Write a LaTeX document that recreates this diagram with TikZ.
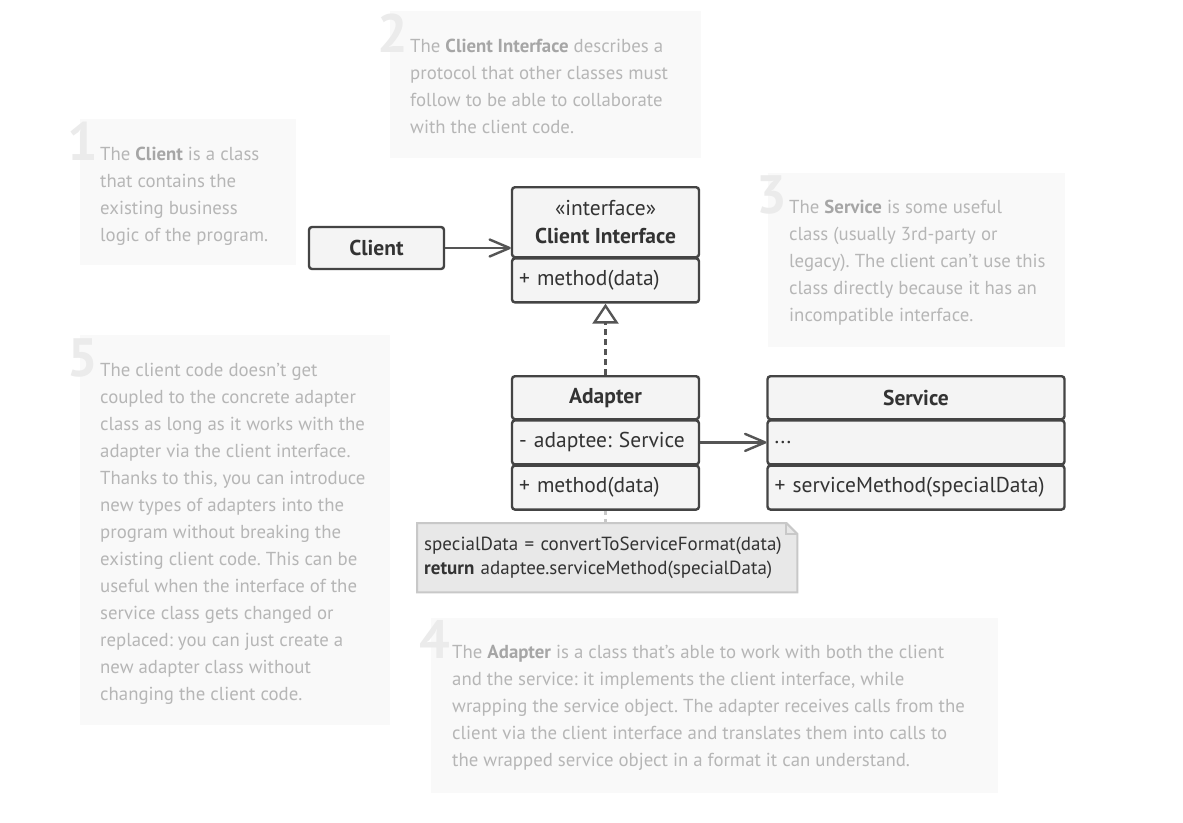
\documentclass[tikz,border=0pt]{standalone}
\usepackage{fontspec}
\setmainfont{PT Sans}
\usetikzlibrary{positioning,arrows.meta,backgrounds}

\definecolor{umlline}{HTML}{444444}
\definecolor{umlfill}{HTML}{F4F4F4}
\definecolor{umltext}{HTML}{333333}
\definecolor{annfill}{HTML}{F9F9F9}
\definecolor{anntext}{HTML}{B6B6B6}
\definecolor{annbold}{HTML}{A6A6A6}
\definecolor{numgray}{HTML}{EBEBEB}
\definecolor{codefill}{HTML}{E8E8E8}
\definecolor{codeline}{HTML}{C8C8C8}
\definecolor{arrowcol}{HTML}{555555}

\newcommand{\hl}[1]{\textbf{\color{annbold}#1}}
\frenchspacing

\begin{document}
\begin{tikzpicture}[x=1pt, y=-1pt, every node/.style={inner sep=0pt},
    cls/.style={draw=umlline, line width=2.4pt, rounded corners=3pt, fill=umlfill, text=umltext, font=\fontsize{21.5}{28}\selectfont},
    head/.style={cls, font=\fontsize{21.5}{28}\selectfont\bfseries, align=center, minimum height=43pt},
    row/.style={cls, inner xsep=7pt, text width=#1, align=left, minimum height=44pt},
    ann/.style={fill=annfill, anchor=north west},
    anntext/.style={text=anntext, font=\fontsize{18.8}{27}\selectfont, align=left, anchor=north west},
    annnum/.style={text=numgray, font=\fontsize{54}{54}\selectfont\bfseries, anchor=base east},
    assoc/.style={draw=arrowcol, line width=2.4pt, -{Straight Barb[length=20pt, width=17pt, round]}},
    realize/.style={draw=arrowcol, line width=2.4pt, dash pattern=on 6pt off 4pt, -{Triangle[open, length=20pt, width=26pt]}},
    dotline/.style={draw=codeline, line width=2.4pt, dash pattern=on 4pt off 4pt}]
    \path[use as bounding box] (0,0) rectangle (1183,822);

    % Notes
    \node[ann, minimum width=216pt, minimum height=146pt] (bg1) at (80,119) {};
    \node[anntext] (t1) at ([shift={(20,22.1)}]bg1.north west) {\strut The \hl{Client} is a class\\that contains the\\existing business\\logic of the program.};
    \node[annnum] (n1) at ([shift={(-2,18.9)}]t1.north west) {1};

    \node[ann, minimum width=311pt, minimum height=147pt] (bg2) at (390,11) {};
    \node[anntext] (t2) at ([shift={(20,22.1)}]bg2.north west) {\strut The \hl{Client Interface} describes a\\protocol that other classes must\\follow to be able to collaborate\\with the client code.};
    \node[annnum] (n2) at ([shift={(-2,18.9)}]t2.north west) {2};

    \node[ann, minimum width=297pt, minimum height=174pt] (bg3) at (768,173) {};
    \node[anntext] (t3) at ([shift={(21,21.1)}]bg3.north west) {\strut The \hl{Service} is some useful\\class (usually 3rd-party or\\legacy). The client can’t use this\\class directly because it has an\\incompatible interface.};
    \node[annnum] (n3) at ([shift={(-2,18.9)}]t3.north west) {3};

    \node[ann, minimum width=310pt, minimum height=390pt] (bg5) at (80,335) {};
    \node[anntext] (t5) at ([shift={(20,22.1)}]bg5.north west) {\strut The client code doesn’t get\\coupled to the concrete adapter\\class as long as it works with the\\adapter via the client interface.\\Thanks to this, you can introduce\\new types of adapters into the\\program without breaking the\\existing client code. This can be\\useful when the interface of the\\service class gets changed or\\replaced: you can just create a\\new adapter class without\\changing the client code.};
    \node[annnum] (n5) at ([shift={(-2,18.9)}]t5.north west) {5};

    \node[ann, minimum width=567pt, minimum height=175pt] (bg4) at (431,618) {};
    \node[anntext] (t4) at ([shift={(21,21.1)}]bg4.north west) {\strut The \hl{Adapter} is a class that’s able to work with both the client\\and the service: it implements the client interface, while\\wrapping the service object. The adapter receives calls from the\\client via the client interface and translates them into calls to\\the wrapped service object in a format it can understand.};
    \node[annnum] (n4) at ([shift={(-2,18.9)}]t4.north west) {4};

    % Classes
    \node[head, minimum width=135pt, minimum height=42pt] (client) at (376.5,248) {Client};

    \node[head, anchor=north, minimum width=187pt, minimum height=70pt] (ci) at (605.5,186) {{\normalfont«interface»}\\Client Interface};
    \node[row=173pt, below=-1.2pt of ci] (cimeth) {+ method(data)};

    \node[head, anchor=north, minimum width=187pt] (adapter) at (605.5,375) {Adapter};
    \node[row=173pt, below=-1.2pt of adapter] (adattr) {- adaptee: Service};
    \node[row=173pt, below=-1.2pt of adattr] (admeth) {+ method(data)};

    \node[head, anchor=north, minimum width=297pt] (service) at (916,375) {Service};
    \node[row=283pt, below=-1.2pt of service] (svattr) {...};
    \node[row=283pt, below=-1.2pt of svattr] (svmeth) {+ serviceMethod(specialData)};

    % Code note
    \node[anchor=north west, minimum width=380pt, minimum height=69pt, text width=366pt, inner xsep=7pt, align=left, text=umltext, font=\fontsize{19}{24}\selectfont] (code) at (417,523) {specialData = convertToServiceFormat(data)\\\textbf{return} adaptee.serviceMethod(specialData)};
    \begin{scope}[on background layer]
        \fill[white] (0,0) rectangle (1183,822);
        \draw[fill=codefill, draw=codeline, line width=2pt] (code.north west) -- ([xshift=-11pt]code.north east) -- ([yshift=-11pt]code.north east) -- (code.south east) -- (code.south west) -- cycle;
        \draw[draw=codeline, line width=2pt] ([xshift=-11pt]code.north east) -- ([xshift=-11pt, yshift=-11pt]code.north east) -- ([yshift=-11pt]code.north east);
    \end{scope}

    % Connectors
    \draw[assoc] (client.east) -- (client.east -| ci.west);
    \draw[assoc] (adattr.east) -- (adattr.east -| svattr.west);
    \draw[realize] (adapter.north) -- (cimeth.south);
    \draw[dotline] (admeth.south) -- (code.north -| admeth.south);
\end{tikzpicture}
\end{document}
